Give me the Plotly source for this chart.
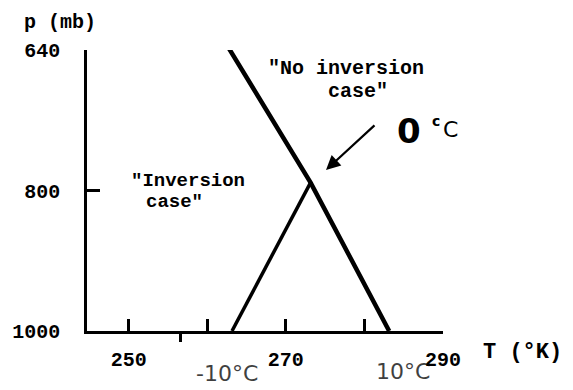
import plotly.graph_objects as go

# Temperature (K) and pressure (mb) of the two sounding profiles
t_no_inversion = [262.5, 273.15, 283.15]
p_no_inversion = [635, 790, 1000]
t_inversion = [263.15, 273.15]
p_inversion = [1000, 790]

# Axis ticks
x_tickvals = [250, 260, 270, 280, 290]
x_ticktext = ["250", "", "270", "", "290"]
x_minor_tickvals = [256.6]
y_tickvals = [640, 800, 1000]
y_ticktext = ["640", "800", "1000"]

W, H = 573, 390
L, R, T, B = 84, 130, 50, 59
PW, PH = W - L - R, H - T - B

MONO = "Liberation Mono"
HAND = "DejaVu Sans"


def px(x, y):
    """Pixel position -> paper coordinates."""
    return (x - L) / PW, (H - B - y) / PH


fig = go.Figure()

fig.add_trace(go.Scatter(
    x=t_no_inversion, y=p_no_inversion, mode="lines",
    line=dict(color="black", width=4.5), cliponaxis=False, showlegend=False,
))
fig.add_trace(go.Scatter(
    x=t_inversion, y=p_inversion, mode="lines",
    line=dict(color="black", width=3.5), cliponaxis=False, showlegend=False,
))

annotations = []


def text(s, x, y, size=20, family=MONO, bold=True, opacity=1.0, color="black"):
    ax, ay = px(x, y)
    annotations.append(dict(
        text=f"<b>{s}</b>" if bold else s, x=ax, y=ay, xref="paper", yref="paper",
        showarrow=False, xanchor="center", yanchor="middle",
        font=dict(family=family, size=size, color=color), opacity=opacity,
    ))


text("p (mb)", 57, 22)
text("T (°K)", 523, 352, size=22)
text('"No inversion', 345, 68)
text('case"', 357, 91)
text('"Inversion', 186, 181, size=19)
text('case"', 172, 202, size=19)

# handwritten 0°C note with arrow to the crossing point
text("0", 409, 131, size=34, family=HAND)
text("c", 436, 121, size=14, family=HAND)
text("C", 451, 129, size=22, family=HAND, bold=False)
tx, ty = px(325, 170)
annotations.append(dict(
    x=tx, y=ty, xref="paper", yref="paper", ax=50, ay=-46, text="",
    showarrow=True, arrowhead=2, arrowsize=1.3, arrowwidth=2.2, arrowcolor="black",
))

# faint handwritten temperatures under the axis
text("-10°C", 225, 373, size=22, family=HAND, bold=False, opacity=0.75)
text("10°C", 403, 371, size=22, family=HAND, bold=False, opacity=0.75)

fig.update_layout(
    width=W, height=H,
    margin=dict(l=L, r=R, t=T, b=B),
    paper_bgcolor="white", plot_bgcolor="white",
    annotations=annotations,
    xaxis=dict(
        range=[244.7, 290.0], showgrid=False, zeroline=False,
        showline=True, linecolor="black", linewidth=2.5,
        tickmode="array", tickvals=x_tickvals, ticktext=x_ticktext,
        ticks="inside", ticklen=12, tickwidth=2.5, tickcolor="black",
        ticklabelstandoff=8,
        tickfont=dict(family=MONO, size=20, color="black", weight="bold"),
        minor=dict(tickmode="array", tickvals=x_minor_tickvals, ticks="outside",
                   ticklen=8, tickwidth=2.5, tickcolor="black", showgrid=False),
    ),
    yaxis=dict(
        type="log", range=[3.0, 2.80618], showgrid=False, zeroline=False,
        showline=True, linecolor="black", linewidth=2.5,
        tickmode="array", tickvals=y_tickvals, ticktext=y_ticktext,
        ticks="inside", ticklen=13, tickwidth=2.5, tickcolor="black",
        ticklabelstandoff=20,
        tickfont=dict(family=MONO, size=20, color="black", weight="bold"),
    ),
)

fig.write_html("out.html")
